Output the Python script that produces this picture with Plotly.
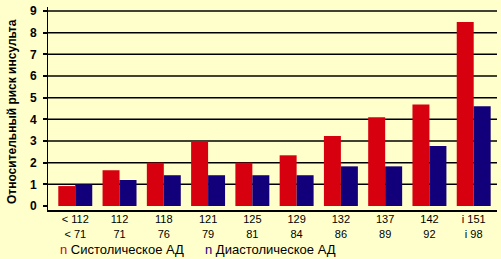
import plotly.graph_objects as go

categories = ["< 112<br>< 71", "112<br>71", "118<br>76", "121<br>79", "125<br>81",
              "129<br>84", "132<br>86", "137<br>89", "142<br>92", "і 151<br>і 98"]
systolic = [0.92, 1.65, 2.0, 3.0, 2.0, 2.34, 3.23, 4.1, 4.69, 8.49]
diastolic = [1.0, 1.2, 1.42, 1.42, 1.42, 1.42, 1.83, 1.83, 2.77, 4.6]
y_ticks = list(range(0, 10))
grid_vals = list(range(1, 10))
series_names = ["Систолическое АД", "Диастолическое АД"]
y_title = "Относительный риск инсульта"

RED = "#D7000F"
BLUE = "#12007A"
BG = "#FFFFCC"
FONT = "Liberation Sans, Arial, sans-serif"

xs = list(range(len(categories)))
fig = go.Figure()
fig.add_trace(go.Bar(x=xs, y=systolic, name=series_names[0], marker_color=RED,
                     marker_line_width=0))
fig.add_trace(go.Bar(x=xs, y=diastolic, name=series_names[1], marker_color=BLUE,
                     marker_line_width=0))

shapes = []
for g in grid_vals:
    shapes.append(dict(type="line", xref="paper", x0=0, x1=1, yref="y", y0=g, y1=g,
                       line=dict(color="black", width=1.5), layer="below"))

fig.update_layout(
    width=501, height=259,
    margin=dict(l=48, r=4, t=7, b=49),
    paper_bgcolor=BG, plot_bgcolor=BG,
    barmode="group", bargap=0.233, bargroupgap=0,
    showlegend=False,
    shapes=shapes,
    xaxis=dict(
        tickmode="array", tickvals=xs, ticktext=categories,
        range=[-0.616, 9.526], showgrid=False, zeroline=False,
        showline=True, linecolor="black", linewidth=2, ticks="",
        ticklabelstandoff=-2,
        tickfont=dict(family=FONT, size=11, color="black"),
    ),
    yaxis=dict(
        tickmode="array", tickvals=y_ticks,
        range=[-0.185, 9.185], showgrid=False, zeroline=False,
        showline=True, linecolor="black", linewidth=1,
        ticks="outside", ticklen=4, tickwidth=1.5, tickcolor="black",
        ticklabelstandoff=4,
        tickfont=dict(family=FONT, size=12, color="black", weight="bold"),
    ),
    annotations=[
        dict(text=y_title, textangle=-90, xref="paper", yref="paper",
             x=0, xshift=-36.5, y=0.485, xanchor="center", yanchor="middle",
             showarrow=False,
             font=dict(family=FONT, size=12, color="black", weight="bold")),
        dict(text=f"<span style='color:{RED}'>n</span> {series_names[0]}",
             xref="paper", yref="paper", x=0.0223, y=-0.197,
             xanchor="left", yanchor="middle", showarrow=False,
             font=dict(family=FONT, size=13, color="black")),
        dict(text=f"<span style='color:{BLUE}'>n</span> {series_names[1]}",
             xref="paper", yref="paper", x=0.345, y=-0.197,
             xanchor="left", yanchor="middle", showarrow=False,
             font=dict(family=FONT, size=13, color="black")),
    ],
)

fig.write_html("out.html")
